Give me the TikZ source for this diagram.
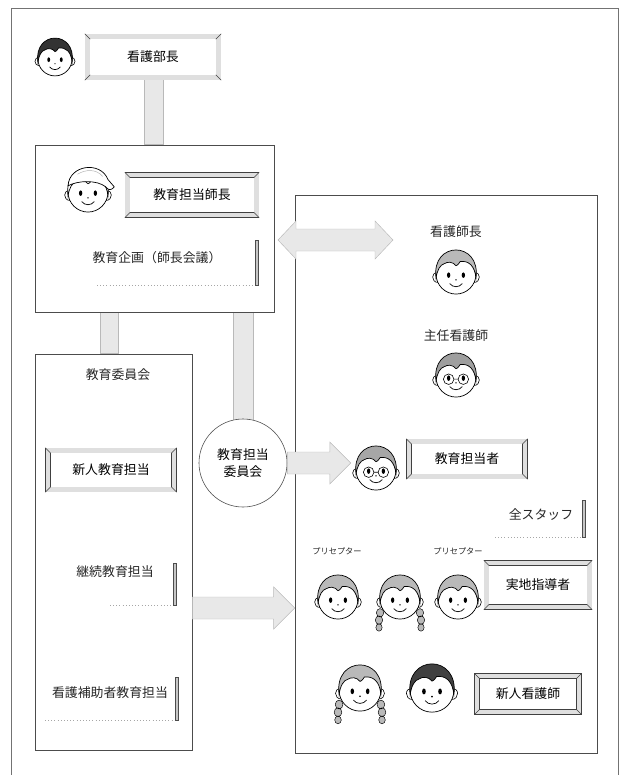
\documentclass[tikz,border=0pt]{standalone}
\usepackage{fontspec}
\setmainfont{Noto Sans CJK JP}
\usepackage{tikz}
\usetikzlibrary{calc}
\usetikzlibrary{fit}
\usetikzlibrary{backgrounds}

% corner lines of a plaque
\newcommand\bevel[1]{%
  \foreach \a/\ox/\oy/\ix/\iy in {north west/-2.3pt/2.3pt/2.3pt/-2.3pt,
      north east/2.3pt/2.3pt/-2.3pt/-2.3pt, south west/-2.3pt/-2.3pt/2.3pt/2.3pt,
      south east/2.3pt/-2.3pt/-2.3pt/2.3pt}
    \draw[black!75, line width=0.5pt] ([shift={(\ox,\oy)}]#1.\a) -- ([shift={(\ix,\iy)}]#1.\a);}

% dotted rule with a small bar at its right end
\newcommand\tagmark[4]{%
  \draw[gray!70, dotted, line width=0.7pt] (#1,#4) -- (#2,#4);%
  \draw[fill=gray!45, draw=black!70, line width=0.3pt] (#2-1.5,#3) rectangle (#2+1.5,#4);}

% thick arrow pointing right, and the two-headed one
\newcommand\fatarrow[2]{%
  \draw[band] ($(#1)+(0,-11)$) -- ($(#2)+(-21,-11)$) -- ($(#2)+(-21,-21)$) -- (#2)
    -- ($(#2)+(-21,21)$) -- ($(#2)+(-21,11)$) -- ($(#1)+(0,11)$) -- cycle;}
\newcommand\dblarrow[2]{%
  \draw[band] (#1) -- ($(#1)+(18,-19)$) -- ($(#1)+(18,-11)$) -- ($(#2)+(-18,-11)$)
    -- ($(#2)+(-18,-19)$) -- (#2) -- ($(#2)+(-18,19)$) -- ($(#2)+(-18,11)$)
    -- ($(#1)+(18,11)$) -- ($(#1)+(18,19)$) -- cycle;}

\tikzset{
  boxframe/.style={draw=black!70, line width=0.5pt, inner sep=0pt},
  plaque/.style={draw=black!75, line width=0.6pt, double=gray!25, double distance=3.5pt,
    fill=white, inner sep=0pt, outer sep=0pt},
  band/.style={draw=gray!55, fill=gray!18, line width=0.4pt},
  txt/.style={inner sep=1pt, text=black!85},
  small/.style={inner sep=1pt, text=black!85, font=\fontsize{7}{8}\selectfont},
  pics/face/.default=gray!55,
  pics/face/.style={code={
    \coordinate (-w) at (-24,0);
    \coordinate (-e) at (24,0);
    \draw[fill=white, line width=0.5pt] (-17,1) .. controls (-24,-1) and (-24,10) .. (-17,10);
    \draw[fill=white, line width=0.5pt] (17,1) .. controls (24,-1) and (24,10) .. (17,10);
    \draw[fill=white, line width=0.6pt] (0,2) ellipse (19 and 19);
    \filldraw[fill=#1, draw=black, line width=0.6pt] (-19,6) .. controls (-24,-30) and (24,-30) .. (19,6)
      .. controls (18,-6) and (12,-11) .. (4,-10) .. controls (2,-7) and (1,-6) .. (0,-6)
      .. controls (-3,-10) and (-8,-10) .. (-11,-8)
      .. controls (-15,-7) and (-18,-2) .. (-19,6) -- cycle;
    \fill (-7,3) ellipse (1.6 and 2.6);
    \fill (7,3) ellipse (1.6 and 2.6);
    \fill (0,7.5) circle (0.8);
    \draw[line width=0.6pt] (-6,11) .. controls (-3,15) and (3,15) .. (6,11);
  }},
  pics/glasses/.style={code={
    \draw[line width=0.5pt] (-7,4) circle (5) (7,4) circle (5) (-2,4) -- (2,4);
  }},
  pics/braids/.style={code={
    \foreach \s in {-1,1}
      \filldraw[fill=gray!55, draw=black, line width=0.4pt] (\s*19,15) ellipse (3.5 and 4)
        (\s*20,22) ellipse (3.5 and 4) (\s*20,29) ellipse (3 and 3.5);
  }},
  pics/cap/.style={code={
    \draw[fill=white, line width=0.6pt] (-19,-4) .. controls (-18,-24) and (12,-28) .. (19,-10)
      -- (25,-3) .. controls (22,1) and (19,0) .. (17,-3) .. controls (8,-10) and (-10,-9) .. (-19,-4) -- cycle;
    \draw[gray!60, line width=0.4pt] (-10,-15) .. controls (-2,-20) and (8,-20) .. (14,-13);
  }}
}

\begin{document}
\begin{tikzpicture}[x=0.03cm, y=-0.03cm]
  \useasboundingbox (0,0) rectangle (622,775);
  {\fontsize{11}{13}\selectfont

  % Outer frame, open at the bottom
  \draw[black!55, line width=0.4pt] (11,775) -- (11,8) -- (618,8) -- (618,775);%

  % Boxes
  \node[boxframe, fit={(35,145) (274,312)}] (kikaku) {};%
  \node[boxframe, fit={(35,354) (192,750)}] (iinkai) {};%
  \node[boxframe, fit={(295,195) (597,753)}] (staff) {};%

  % Plaques
  \node[plaque, minimum width=3.93cm, minimum height=1.23cm] (bucho) at (153,57) {看護部長};%
  \bevel{bucho}%
  \node[plaque, minimum width=3.87cm, minimum height=1.2cm] (shicho) at (192,195) {教育担当師長};%
  \bevel{shicho}%
  \node[plaque, minimum width=3.78cm, minimum height=1.17cm] (shintan) at (111,470) {新人教育担当};%
  \bevel{shintan}%
  \node[plaque, minimum width=3.48cm, minimum height=1.05cm] (tantosha) at (467,459) {教育担当者};%
  \bevel{tantosha}%
  \node[plaque, minimum width=3.09cm, minimum height=1.32cm] (jicchi) at (538,585) {実地指導者};%
  \bevel{jicchi}%
  \node[plaque, minimum width=3.06cm, minimum height=1.08cm] (shinjin) at (528,694) {新人看護師};%
  \bevel{shinjin}%

  % Committee circle
  \node[circle, draw=black!70, line width=0.5pt, fill=white, minimum size=2.64cm, inner sep=0pt,
    align=center] (en) at (243,463) {教育担当\\[2pt]委員会};%

  % Texts
  \node[txt] (kikakutxt) at (157,258) {教育企画（師長会議）};%
  \node[txt] (iinkaitxt) at (118,375) {教育委員会};%
  \node[txt] (keizoku) at (115,572) {継続教育担当};%
  \node[txt] (hojo) at (110,693) {看護補助者教育担当};%
  \node[txt] (shicholab) at (456,232) {看護師長};%
  \node[txt] (shunin) at (456,336) {主任看護師};%
  \node[txt] (zenin) at (541,515) {全スタッフ};%
  \node[small] (pre1) at (337,551) {プリセプター};%
  \node[small] (pre2) at (458,551) {プリセプター};%

  % Rules under texts
  \tagmark{97}{257}{240}{285}%
  \tagmark{110}{175}{563}{605}%
  \tagmark{45}{177}{677}{720}%
  \tagmark{495}{584}{500}{537}%

  % Faces
  \pic[scale=0.9] (bface) at (55,57) {face=black!80};%
  \pic[scale=1.05] (sface) at (88,190) {face=white};%
  \pic[scale=1.05] at (88,190) {cap};%
  \pic[scale=1.05] (cface) at (456,272) {face=gray!55};%
  \pic[scale=1.05] (nface) at (456,375) {face=gray!75};%
  \pic[scale=1.05] at (456,375) {glasses};%
  \pic[scale=1.05] (tface) at (376,468) {face=gray!70};%
  \pic[scale=1.05] at (376,468) {glasses};%
  \pic[scale=1.05] (p1) at (338,597) {face=gray!55};%
  \pic[scale=1.05] (p2) at (400,597) {face=gray!55};%
  \pic[scale=1.05] at (400,597) {braids};%
  \pic[scale=1.05] (p3) at (458,597) {face=gray!55};%
  \pic[scale=1.1] (n1) at (360,688) {face=gray!55};%
  \pic[scale=1.1] at (360,688) {braids};%
  \pic[scale=1.15] (n2) at (432,688) {face=black!75};%

  % Connectors
  \coordinate (dl) at (278,240);%
  \coordinate (dr) at (393,240);%
  \coordinate (cl) at (109,0);%
  \begin{scope}[on background layer]
    \draw[band] ($(bucho.south)+(-9,0)$) rectangle ($(kikaku.north)+(9,0)$);%
    \draw[band] ($(kikaku.south -| cl)+(-9,0)$) rectangle ($(iinkai.north -| cl)+(9,0)$);%
    \draw[band] ($(kikaku.south -| en.north)+(-10,0)$) rectangle ($(en.north)+(10,10)$);%
  \end{scope}
  \dblarrow{dl}{dr}%
  \fatarrow{en.east}{en.east -| tface-w}%
  \fatarrow{iinkai.east |- 0,608}{staff.west |- 0,608}%
  }
\end{tikzpicture}
\end{document}
